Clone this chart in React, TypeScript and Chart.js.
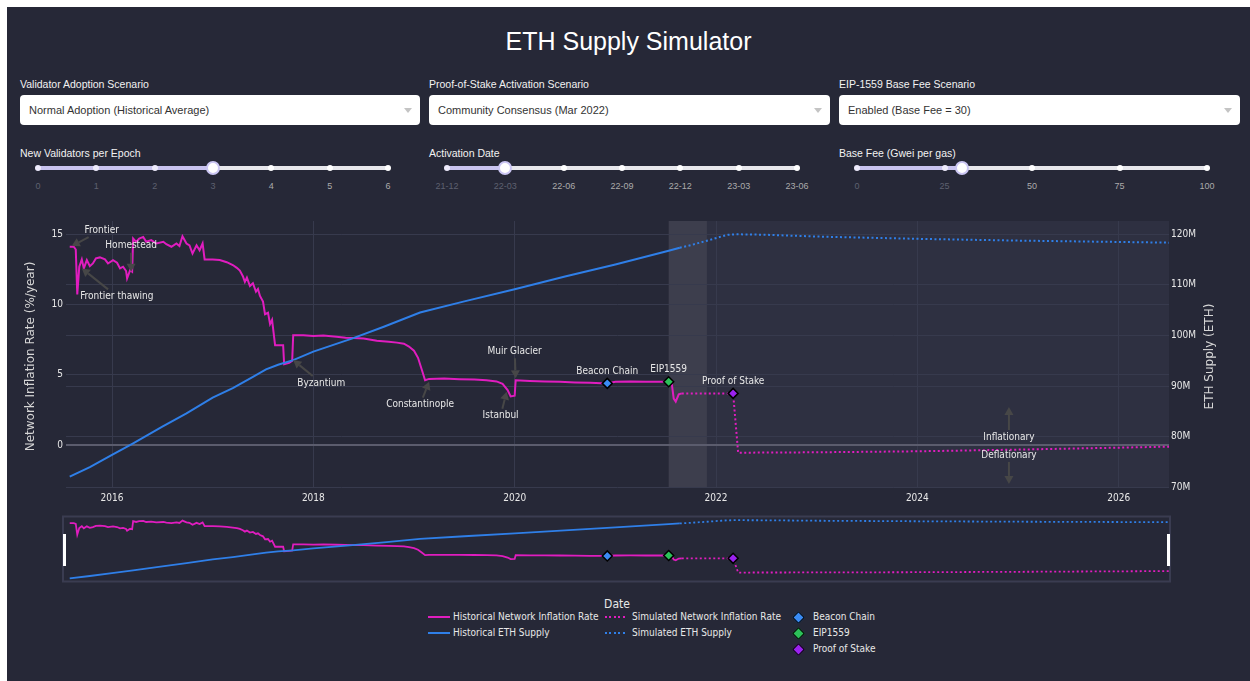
import React, { useEffect, useRef } from 'react';
import { Chart, registerables } from 'chart.js';

Chart.register(...registerables);

// ---------------- data ----------------
const histInflationYears = [
  2015.58, 2015.62, 2015.64, 2015.655, 2015.675, 2015.70, 2015.72, 2015.75, 2015.78, 2015.81,
  2015.84, 2015.88, 2015.93, 2015.96, 2016.01, 2016.05, 2016.08, 2016.11, 2016.14, 2016.15,
  2016.18, 2016.20, 2016.21, 2016.24, 2016.27, 2016.31, 2016.34, 2016.39, 2016.44, 2016.51,
  2016.54, 2016.59, 2016.64, 2016.67, 2016.70, 2016.74, 2016.77, 2016.80, 2016.84, 2016.87,
  2016.90, 2016.92, 2017.00, 2017.07, 2017.14, 2017.20, 2017.24, 2017.27, 2017.30, 2017.32,
  2017.34, 2017.37, 2017.40, 2017.43, 2017.45, 2017.47, 2017.50, 2017.52, 2017.55, 2017.57,
  2017.59, 2017.62, 2017.70, 2017.71, 2017.76, 2017.79, 2017.80, 2017.90, 2018.00, 2018.10,
  2018.23, 2018.32, 2018.40, 2018.50, 2018.63, 2018.75, 2018.83, 2018.90, 2018.95, 2019.00,
  2019.04, 2019.08, 2019.11, 2019.15, 2019.30, 2019.45, 2019.60, 2019.72, 2019.82, 2019.88,
  2019.93, 2019.96, 2020.00, 2020.01, 2020.15, 2020.30, 2020.45, 2020.60, 2020.75, 2020.92,
  2021.00, 2021.15, 2021.30, 2021.45, 2021.53, 2021.56, 2021.58, 2021.60, 2021.63, 2021.66,
];
const histInflationRates = [
  14.1, 14.1, 13.9, 10.7, 12.68, 13.2, 12.56, 13.15, 12.72, 12.91,
  13.27, 13.34, 13.2, 12.91, 13.15, 12.96, 12.56, 12.68, 12.37, 11.85,
  12.44, 12.32, 14.68, 14.45, 14.68, 14.8, 14.45, 14.57, 14.33, 14.45,
  14.28, 14.1, 14.33, 14.15, 14.85, 14.33, 14.2, 13.62, 14.2, 13.85,
  14.33, 13.2, 13.2, 13.15, 13.0, 12.8, 12.6, 12.4, 12.0, 11.6,
  11.9, 11.3, 11.5, 10.9, 11.1, 10.6, 10.2, 9.3, 9.4, 8.6,
  8.9, 7.1, 7.1, 5.75, 5.85, 6.0, 7.8, 7.8, 7.75, 7.78,
  7.7, 7.62, 7.6, 7.58, 7.42, 7.35, 7.28, 7.2, 7.0, 6.7,
  6.2, 5.3, 4.6, 4.7, 4.72, 4.68, 4.66, 4.6, 4.52, 4.35,
  3.9, 3.45, 3.5, 4.6, 4.55, 4.52, 4.5, 4.45, 4.42, 4.38,
  4.5, 4.52, 4.5, 4.5, 4.5, 4.4, 3.3, 3.08, 3.6, 3.67,
];

const histSupplyYears = [
  2015.58, 2015.78, 2016.00, 2016.21, 2016.50, 2016.74, 2017.00, 2017.20, 2017.40, 2017.53,
  2017.65, 2017.80, 2018.00, 2018.39, 2018.70, 2019.06, 2019.50, 2020.00, 2020.50, 2021.00,
  2021.53, 2021.64,
];
const histSupplyMillions = [
  72.1, 74.0, 76.4, 78.7, 82.0, 84.6, 87.7, 89.6, 91.8, 93.3,
  94.2, 95.1, 96.8, 99.4, 101.7, 104.5, 106.7, 109.1, 111.6, 114.0,
  116.7, 117.3,
];

const simInflationYears = [2021.66, 2022.17, 2022.22, 2023.0, 2024.0, 2025.0, 2026.5];
const simInflationRates = [3.67, 3.67, -0.55, -0.52, -0.45, -0.33, -0.12];

const simSupplyYears = [2021.64, 2021.75, 2021.84, 2021.95, 2022.05, 2022.12, 2022.2, 2022.5, 2023.0, 2024.0, 2025.0, 2026.5];
const simSupplyMillions = [117.3, 117.8, 118.3, 118.9, 119.5, 119.85, 119.95, 119.85, 119.5, 119.05, 118.7, 118.3];

const eventNames = ['Beacon Chain', 'EIP1559', 'Proof of Stake'];
const eventYears = [2020.92, 2021.53, 2022.17];
const eventRates = [4.38, 4.5, 3.67];
const eventColors = ['#3a8bf3', '#2cc159', '#9a22ef'];

const upgradeNames = ['Frontier', 'Frontier thawing', 'Homestead', 'Byzantium', 'Constantinople', 'Istanbul', 'Muir Glacier'];
const upgradeYears = [2015.6, 2015.7, 2016.19, 2017.8, 2019.15, 2019.92, 2020.01];
const upgradeRates = [14.15, 12.56, 12.32, 6.04, 4.5, 3.79, 4.74];
const upgradeLabelShift = [[30, -16], [35, 28], [0, -26], [28, 23], [-9, 23], [-6, 24], [-1, -27]];

const regimeNames = ['Inflationary', 'Deflationary'];
const regimeYear = 2024.91;
const regimeRates = [2.7, -2.77];
const regimeLabelShift = [[0, 30], [0, -29]];

const historicalEndYear = 2021.53;
const simulationStartYear = 2021.91;

const xRange = [2015.543, 2026.5];
const inflationRange = [-3.06, 15.93];
const supplyRange = [69.87, 122.57];

const yearTicks = [2016, 2018, 2020, 2022, 2024, 2026];
const inflationTicks = [0, 5, 10, 15];
const supplyTicks = [70, 80, 90, 100, 110, 120];

const validatorMarks = ['0', '1', '2', '3', '4', '5', '6'];
const validatorValue = 3;
const activationMarks = ['21-12', '22-03', '22-06', '22-09', '22-12', '23-03', '23-06'];
const activationIndex = 1;
const baseFeeMarks = [0, 25, 50, 75, 100];
const baseFeeValue = 30;

// ---------------- styles ----------------
const PANEL_BG = '#262837';
const SIM_BG = '#2e3041';
const BAND_BG = '#3d3e4d';
const GRID = '#373a4d';
const ZERO = '#5b5c6d';
const MAGENTA = '#e01dbf';
const BLUE = '#2f7fe8';
const TEXT = '#e8e8e8';
const ARROW = '#474747';
const SANS = '"Liberation Sans", Arial, sans-serif';
const COND = '"DejaVu Sans Condensed", "DejaVu Sans", Verdana, sans-serif';
const WIDE = '"DejaVu Sans", Verdana, sans-serif';

const pts = (xs: number[], ys: number[]) => xs.map((x, i) => ({ x, y: ys[i] }));

function buildDatasets(markerRadius: number, lw: number): any[] {
  const markers = eventNames.map((name, i) => ({
    label: name,
    data: [{ x: eventYears[i], y: eventRates[i] }],
    yAxisID: 'y',
    showLine: false,
    pointStyle: 'rectRot',
    pointRadius: markerRadius,
    pointBackgroundColor: eventColors[i],
    pointBorderColor: '#000',
    pointBorderWidth: 1.5,
    order: 0,
  }));
  return [
    ...markers,
    { label: 'Simulated ETH Supply', data: pts(simSupplyYears, simSupplyMillions), yAxisID: 'y2', borderColor: BLUE, borderWidth: lw, borderDash: [2, 2.5], pointRadius: 0, order: 1 },
    { label: 'Simulated Network Inflation Rate', data: pts(simInflationYears, simInflationRates), yAxisID: 'y', borderColor: MAGENTA, borderWidth: lw, borderDash: [2, 2.5], pointRadius: 0, order: 2 },
    { label: 'Historical ETH Supply', data: pts(histSupplyYears, histSupplyMillions), yAxisID: 'y2', borderColor: BLUE, borderWidth: lw, pointRadius: 0, order: 3 },
    { label: 'Historical Network Inflation Rate', data: pts(histInflationYears, histInflationRates), yAxisID: 'y', borderColor: MAGENTA, borderWidth: lw, pointRadius: 0, order: 4 },
  ];
}

function drawAnnotation(ctx: CanvasRenderingContext2D, tipX: number, tipY: number, tx: number, ty: number, label: string, arrow: boolean) {
  ctx.font = `10px ${COND}`;
  const w = ctx.measureText(label).width;
  if (arrow) {
    const dx = tipX - tx;
    const dy = tipY - ty;
    const hw = w / 2 + 2;
    const hh = 7;
    const t = Math.min(dx !== 0 ? hw / Math.abs(dx) : Infinity, dy !== 0 ? hh / Math.abs(dy) : Infinity);
    const sx = tx + dx * t;
    const sy = ty + dy * t;
    const len = Math.hypot(tipX - sx, tipY - sy);
    const ux = (tipX - sx) / len;
    const uy = (tipY - sy) / len;
    const head = 8;
    const bx = tipX - ux * head;
    const by = tipY - uy * head;
    ctx.strokeStyle = ARROW;
    ctx.fillStyle = ARROW;
    ctx.lineWidth = 2;
    ctx.beginPath();
    ctx.moveTo(sx, sy);
    ctx.lineTo(bx, by);
    ctx.stroke();
    ctx.beginPath();
    ctx.moveTo(tipX, tipY);
    ctx.lineTo(bx - uy * 4.5, by + ux * 4.5);
    ctx.lineTo(bx + uy * 4.5, by - ux * 4.5);
    ctx.closePath();
    ctx.fill();
  }
  ctx.fillStyle = TEXT;
  ctx.textAlign = 'center';
  ctx.textBaseline = 'middle';
  ctx.fillText(label, tx, ty);
}

const mainDecor = {
  id: 'mainDecor',
  beforeDraw(chart: any) {
    const { ctx, chartArea, scales } = chart;
    const a = scales.x.getPixelForValue(historicalEndYear);
    const b = scales.x.getPixelForValue(simulationStartYear);
    ctx.save();
    ctx.fillStyle = SIM_BG;
    ctx.fillRect(b, chartArea.top, chartArea.right - b, chartArea.bottom - chartArea.top);
    ctx.fillStyle = BAND_BG;
    ctx.fillRect(a, chartArea.top, b - a, chartArea.bottom - chartArea.top);
    ctx.restore();
  },
  afterDraw(chart: any) {
    const { ctx, chartArea, scales } = chart;
    ctx.save();
    ctx.font = `12px ${WIDE}`;
    ctx.fillStyle = '#d6d6d6';
    ctx.textAlign = 'center';
    ctx.textBaseline = 'middle';
    const midY = (chartArea.top + chartArea.bottom) / 2 + 2;
    const titles: [number, string][] = [
      [chartArea.left - 35, 'Network Inflation Rate (%/year)'],
      [chartArea.right + 41, 'ETH Supply (ETH)'],
    ];
    titles.forEach(([x, t]) => {
      ctx.save();
      ctx.translate(x, midY);
      ctx.rotate(-Math.PI / 2);
      ctx.fillText(t, 0, 0);
      ctx.restore();
    });
    upgradeNames.forEach((name, i) => {
      const px = scales.x.getPixelForValue(upgradeYears[i]);
      const py = scales.y.getPixelForValue(upgradeRates[i]);
      drawAnnotation(ctx, px, py, px + upgradeLabelShift[i][0], py + upgradeLabelShift[i][1], name, true);
    });
    eventNames.forEach((name, i) => {
      const px = scales.x.getPixelForValue(eventYears[i]);
      const py = scales.y.getPixelForValue(eventRates[i]);
      drawAnnotation(ctx, px, py, px, py - 12, name, false);
    });
    regimeNames.forEach((name, i) => {
      const px = scales.x.getPixelForValue(regimeYear);
      const py = scales.y.getPixelForValue(regimeRates[i]);
      drawAnnotation(ctx, px, py, px + regimeLabelShift[i][0], py + regimeLabelShift[i][1], name, true);
    });
    ctx.restore();
  },
};

const miniDecor = {
  id: 'miniDecor',
  afterDraw(chart: any) {
    const { ctx, chartArea } = chart;
    ctx.save();
    ctx.strokeStyle = '#3a3c51';
    ctx.lineWidth = 2;
    ctx.strokeRect(chartArea.left - 3, chartArea.top - 0.5, chartArea.right - chartArea.left + 4, chartArea.bottom - chartArea.top + 1);
    ctx.fillStyle = '#ffffff';
    const hTop = chartArea.top + 17;
    ctx.fillRect(chartArea.left - 3, hTop, 3, 32);
    ctx.fillRect(chartArea.right - 2, hTop, 3, 32);
    ctx.restore();
  },
};

const tickFont = { family: COND, size: 10 };

function mainConfig(): any {
  return {
    type: 'line',
    data: { datasets: buildDatasets(5, 2) },
    options: {
      animation: false,
      responsive: false,
      maintainAspectRatio: false,
      layout: { padding: { top: 21, left: 0, right: 0, bottom: 0 } },
      plugins: { legend: { display: false }, tooltip: { enabled: false } },
      elements: { line: { tension: 0, borderCapStyle: 'butt' } },
      scales: {
        x: {
          type: 'linear',
          min: xRange[0],
          max: xRange[1],
          afterBuildTicks: (s: any) => { s.ticks = yearTicks.map((v) => ({ value: v })); },
          afterFit: (s: any) => { s.height = 22; },
          grid: { color: GRID, drawTicks: false },
          border: { display: false },
          ticks: { color: TEXT, font: tickFont, padding: 4, autoSkip: false, maxRotation: 0, callback: (v: any) => String(v) },
        },
        y: {
          type: 'linear',
          position: 'left',
          min: inflationRange[0],
          max: inflationRange[1],
          afterBuildTicks: (s: any) => { s.ticks = inflationTicks.map((v) => ({ value: v })); },
          afterFit: (s: any) => { s.width = 59; },
          grid: {
            color: (c: any) => (c.tick && c.tick.value === 0 ? ZERO : GRID),
            lineWidth: (c: any) => (c.tick && c.tick.value === 0 ? 2 : 1),
            drawTicks: false,
          },
          border: { display: false },
          ticks: { color: TEXT, font: tickFont, padding: 3, callback: (v: any) => String(v) },
        },
        y2: {
          type: 'linear',
          position: 'right',
          min: supplyRange[0],
          max: supplyRange[1],
          afterBuildTicks: (s: any) => { s.ticks = supplyTicks.map((v) => ({ value: v })); },
          afterFit: (s: any) => { s.width = 81; },
          grid: { color: GRID, drawTicks: false },
          border: { display: false },
          ticks: { color: TEXT, font: tickFont, padding: 2, callback: (v: any) => `${v}M` },
        },
      },
    },
    plugins: [mainDecor],
  };
}

function miniConfig(): any {
  return {
    type: 'line',
    data: { datasets: buildDatasets(5, 1.8) },
    options: {
      animation: false,
      responsive: false,
      maintainAspectRatio: false,
      layout: { padding: { top: 7, left: 59, right: 81, bottom: 9 } },
      plugins: { legend: { display: false }, tooltip: { enabled: false } },
      elements: { line: { tension: 0, borderCapStyle: 'butt' } },
      scales: {
        x: { type: 'linear', display: false, min: xRange[0], max: xRange[1] },
        y: { type: 'linear', display: false, min: inflationRange[0], max: inflationRange[1] },
        y2: { type: 'linear', display: false, min: supplyRange[0], max: supplyRange[1] },
      },
    },
    plugins: [miniDecor],
  };
}

// ---------------- controls ----------------
function Dropdown({ left, width, label, value }: { left: number; width: number; label: string; value: string }) {
  return (
    <>
      <div style={{ position: 'absolute', left, top: 70, fontSize: 10.5, lineHeight: '14px', color: '#f2f2f2', whiteSpace: 'nowrap' }}>{label}</div>
      <div style={{ position: 'absolute', left, top: 88, width, height: 30, background: '#ffffff', borderRadius: 4 }}>
        <div style={{ position: 'absolute', left: 9, top: 0, lineHeight: '30px', fontSize: 11, color: '#333333', whiteSpace: 'nowrap' }}>{value}</div>
        <div style={{ position: 'absolute', right: 8, top: 13, width: 0, height: 0, borderLeft: '4px solid transparent', borderRight: '4px solid transparent', borderTop: '5px solid #c4c4c4' }} />
      </div>
    </>
  );
}

function Slider({ left, label, marks, positions, value }: { left: number; label: string; marks: string[]; positions: number[]; value: number }) {
  const trackLeft = left + 18;
  const trackWidth = 350;
  const px = (f: number) => trackLeft + f * trackWidth;
  return (
    <>
      <div style={{ position: 'absolute', left, top: 139, fontSize: 10.5, lineHeight: '14px', color: '#f2f2f2', whiteSpace: 'nowrap' }}>{label}</div>
      <div style={{ position: 'absolute', left: trackLeft, top: 159, width: trackWidth, height: 4, borderRadius: 2, background: '#e7e7ec' }} />
      <div style={{ position: 'absolute', left: trackLeft, top: 159, width: value * trackWidth, height: 4, borderRadius: 2, background: '#c8c3ef' }} />
      {positions.map((f, i) => (
        <div key={`d${i}`} style={{ position: 'absolute', left: px(f) - 3, top: 158, width: 6, height: 6, borderRadius: 3, background: f <= value ? '#eeebfc' : '#ffffff' }} />
      ))}
      <div style={{ position: 'absolute', left: px(value) - 7, top: 154, width: 14, height: 14, borderRadius: 7, background: '#ffffff', border: '2px solid #cbc6f3', boxSizing: 'border-box' }} />
      {marks.map((m, i) => (
        <div key={`m${i}`} style={{ position: 'absolute', left: px(positions[i]) - 20, width: 40, top: 173, textAlign: 'center', fontSize: 9, lineHeight: '12px', color: positions[i] <= value ? '#5e6170' : '#ababab' }}>{m}</div>
      ))}
    </>
  );
}

function LineSample({ left, top, color, dotted }: { left: number; top: number; color: string; dotted: boolean }) {
  return (
    <div
      style={{
        position: 'absolute', left, top: top - 1, width: 22, height: 2,
        background: dotted ? `repeating-linear-gradient(to right, ${color} 0px, ${color} 2px, transparent 2px, transparent 4.5px)` : color,
      }}
    />
  );
}

function Diamond({ cx, cy, color }: { cx: number; cy: number; color: string }) {
  return (
    <div style={{ position: 'absolute', left: cx - 4.5, top: cy - 4.5, width: 9, height: 9, boxSizing: 'border-box', background: color, border: '1.5px solid #000', transform: 'rotate(45deg)' }} />
  );
}

function LegendText({ left, cy, text }: { left: number; cy: number; text: string }) {
  return <div style={{ position: 'absolute', left, top: cy - 7, lineHeight: '14px', fontSize: 10, fontFamily: COND, color: TEXT, whiteSpace: 'nowrap' }}>{text}</div>;
}

export default function App() {
  const mainRef = useRef<HTMLCanvasElement>(null);
  const miniRef = useRef<HTMLCanvasElement>(null);

  useEffect(() => {
    const main = new Chart(mainRef.current as HTMLCanvasElement, mainConfig());
    const mini = new Chart(miniRef.current as HTMLCanvasElement, miniConfig());
    return () => {
      main.destroy();
      mini.destroy();
    };
  }, []);

  const rows = [610, 626, 642];

  return (
    <div style={{ position: 'fixed', left: 7, top: 7, right: 0, bottom: 0, background: PANEL_BG, overflow: 'hidden', fontFamily: SANS }}>
      <div style={{ position: 'absolute', left: 0, width: 1243, top: 21, lineHeight: '26px', fontSize: 25, color: '#ffffff', textAlign: 'center' }}>ETH Supply Simulator</div>

      <Dropdown left={13} width={400} label="Validator Adoption Scenario" value="Normal Adoption (Historical Average)" />
      <Dropdown left={422} width={401} label="Proof-of-Stake Activation Scenario" value="Community Consensus (Mar 2022)" />
      <Dropdown left={832} width={401} label="EIP-1559 Base Fee Scenario" value="Enabled (Base Fee = 30)" />

      <Slider left={13} label="New Validators per Epoch" marks={validatorMarks} positions={validatorMarks.map((_, i) => i / 6)} value={validatorValue / 6} />
      <Slider left={422} label="Activation Date" marks={activationMarks} positions={activationMarks.map((_, i) => i / 6)} value={activationIndex / 6} />
      <Slider left={832} label="Base Fee (Gwei per gas)" marks={baseFeeMarks.map(String)} positions={baseFeeMarks.map((v) => v / 100)} value={baseFeeValue / 100} />

      <canvas ref={mainRef} width={1243} height={310} style={{ position: 'absolute', left: 0, top: 193, width: 1243, height: 310 }} />
      <canvas ref={miniRef} width={1243} height={80} style={{ position: 'absolute', left: 0, top: 503, width: 1243, height: 80 }} />

      <div style={{ position: 'absolute', left: 560, width: 100, top: 590, textAlign: 'center', fontSize: 12, fontFamily: COND, lineHeight: '14px', color: TEXT }}>Date</div>

      <LineSample left={421} top={rows[0]} color={MAGENTA} dotted={false} />
      <LegendText left={446} cy={rows[0]} text="Historical Network Inflation Rate" />
      <LineSample left={421} top={rows[1]} color={BLUE} dotted={false} />
      <LegendText left={446} cy={rows[1]} text="Historical ETH Supply" />

      <LineSample left={598} top={rows[0]} color={MAGENTA} dotted />
      <LegendText left={625} cy={rows[0]} text="Simulated Network Inflation Rate" />
      <LineSample left={598} top={rows[1]} color={BLUE} dotted />
      <LegendText left={625} cy={rows[1]} text="Simulated ETH Supply" />

      {eventNames.map((name, i) => (
        <React.Fragment key={name}>
          <Diamond cx={791} cy={rows[i]} color={eventColors[i]} />
          <LegendText left={806} cy={rows[i]} text={name} />
        </React.Fragment>
      ))}
    </div>
  );
}
